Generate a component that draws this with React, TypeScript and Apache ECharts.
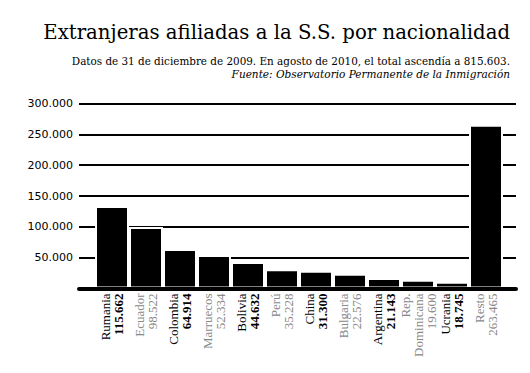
import React, { useEffect, useRef } from 'react';
import * as echarts from 'echarts';

const categories = ['Rumania', 'Ecuador', 'Colombia', 'Marruecos', 'Bolivia', 'Perú', 'China', 'Bulgaria', 'Argentina', 'Rep.\nDominicana', 'Ucrania', 'Resto'];
const labelValues = ['115.662', '98.522', '64.914', '52.334', '44.632', '35.228', '31.300', '22.576', '21.143', '19.600', '18.745', '263.465'];
const barValues = [133800, 99700, 64000, 54200, 42900, 31000, 28700, 23900, 16900, 14100, 10900, 265700];
const yMin = 0;
const yMax = 300000;
const yStep = 50000;

const titleText = 'Extranjeras afiliadas a la S.S. por nacionalidad';
const subtitleText = 'Datos de 31 de diciembre de 2009. En agosto de 2010, el total ascendía a 815.603.';
const sourceText = 'Fuente: Observatorio Permanente de la Inmigración';

const SERIF = 'DejaVu Serif, serif';
const LABEL_SERIF = 'Liberation Serif, serif';

export default function App() {
  const ref = useRef<HTMLDivElement>(null);
  useEffect(() => {
    if (!ref.current) return;
    const chart = echarts.init(ref.current, undefined, { renderer: 'svg' });
    const fmtThousands = (v: number) => (v === 0 ? '' : String(v).replace(/\B(?=(\d{3})+(?!\d))/g, '.'));
    chart.setOption({
      animation: false,
      backgroundColor: '#fff',
      graphic: [
        {
          type: 'text',
          style: { text: titleText, x: 510, y: 42.5, align: 'right', verticalAlign: 'bottom', fontFamily: SERIF, fontSize: 19.7, fill: '#000' },
        },
        {
          type: 'text',
          style: { text: subtitleText, x: 510, y: 65.5, align: 'right', verticalAlign: 'bottom', fontFamily: SERIF, fontSize: 10.4, fill: '#000' },
        },
        {
          type: 'text',
          style: { text: sourceText, x: 510, y: 79, align: 'right', verticalAlign: 'bottom', fontFamily: SERIF, fontSize: 10.5, fontStyle: 'italic', fill: '#000' },
        },
      ],
      grid: [
        { left: 79, right: 14, top: 103.6, bottom: 84.6 },
        { left: 95, right: 27, top: 103.6, bottom: 84.6 },
      ],
      xAxis: [
        {
          type: 'category',
          gridIndex: 0,
          data: [''],
          z: 10,
          axisLine: { show: true, lineStyle: { color: '#000', width: 4 } },
          axisTick: { show: false },
          axisLabel: { show: false },
          splitLine: { show: false },
        },
        {
          type: 'category',
          gridIndex: 1,
          data: categories,
          axisLine: { show: false },
          axisTick: { show: false },
          splitLine: { show: false },
          axisLabel: {
            interval: 0,
            rotate: 90,
            margin: 5,
            hideOverlap: false,
            formatter: (value: string, index: number) => {
              const g = index % 2 === 1;
              const nm = value.split('\n').map((l) => `{${g ? 'ng' : 'nb'}|${l}}`).join('\n');
              return `${nm}\n{${g ? 'vg' : 'vb'}|${labelValues[index]}}`;
            },
            rich: {
              nb: { fontFamily: LABEL_SERIF, fontSize: 13, color: '#000', lineHeight: 13, align: 'right' },
              ng: { fontFamily: LABEL_SERIF, fontSize: 13, color: '#888', lineHeight: 13, align: 'right' },
              vb: { fontFamily: LABEL_SERIF, fontSize: 13, fontWeight: 'bold', color: '#000', lineHeight: 13, align: 'right' },
              vg: { fontFamily: LABEL_SERIF, fontSize: 13, color: '#888', lineHeight: 13, align: 'right' },
            },
          },
        },
      ],
      yAxis: [
        {
          type: 'value',
          gridIndex: 0,
          min: yMin,
          max: yMax,
          interval: yStep,
          axisLine: { show: false },
          axisTick: { show: false },
          axisLabel: {
            margin: 6,
            fontFamily: 'DejaVu Sans',
            fontSize: 11,
            color: '#000',
            formatter: fmtThousands,
          },
          splitLine: { show: true, lineStyle: { color: '#000', width: 2 } },
        },
        {
          type: 'value',
          gridIndex: 1,
          min: yMin,
          max: yMax,
          interval: yStep,
          axisLine: { show: false },
          axisTick: { show: false },
          axisLabel: { show: false },
          splitLine: { show: false },
        },
      ],
      series: [
        {
          type: 'bar',
          xAxisIndex: 1,
          yAxisIndex: 1,
          data: barValues,
          barCategoryGap: 0,
          itemStyle: { color: '#000', borderColor: '#fff', borderWidth: 2 },
          z: 3,
        },
      ],
    });
    return () => chart.dispose();
  }, []);
  return <div ref={ref} style={{ position: 'fixed', left: 0, top: 0, width: 530, height: 373 }} />;
}
